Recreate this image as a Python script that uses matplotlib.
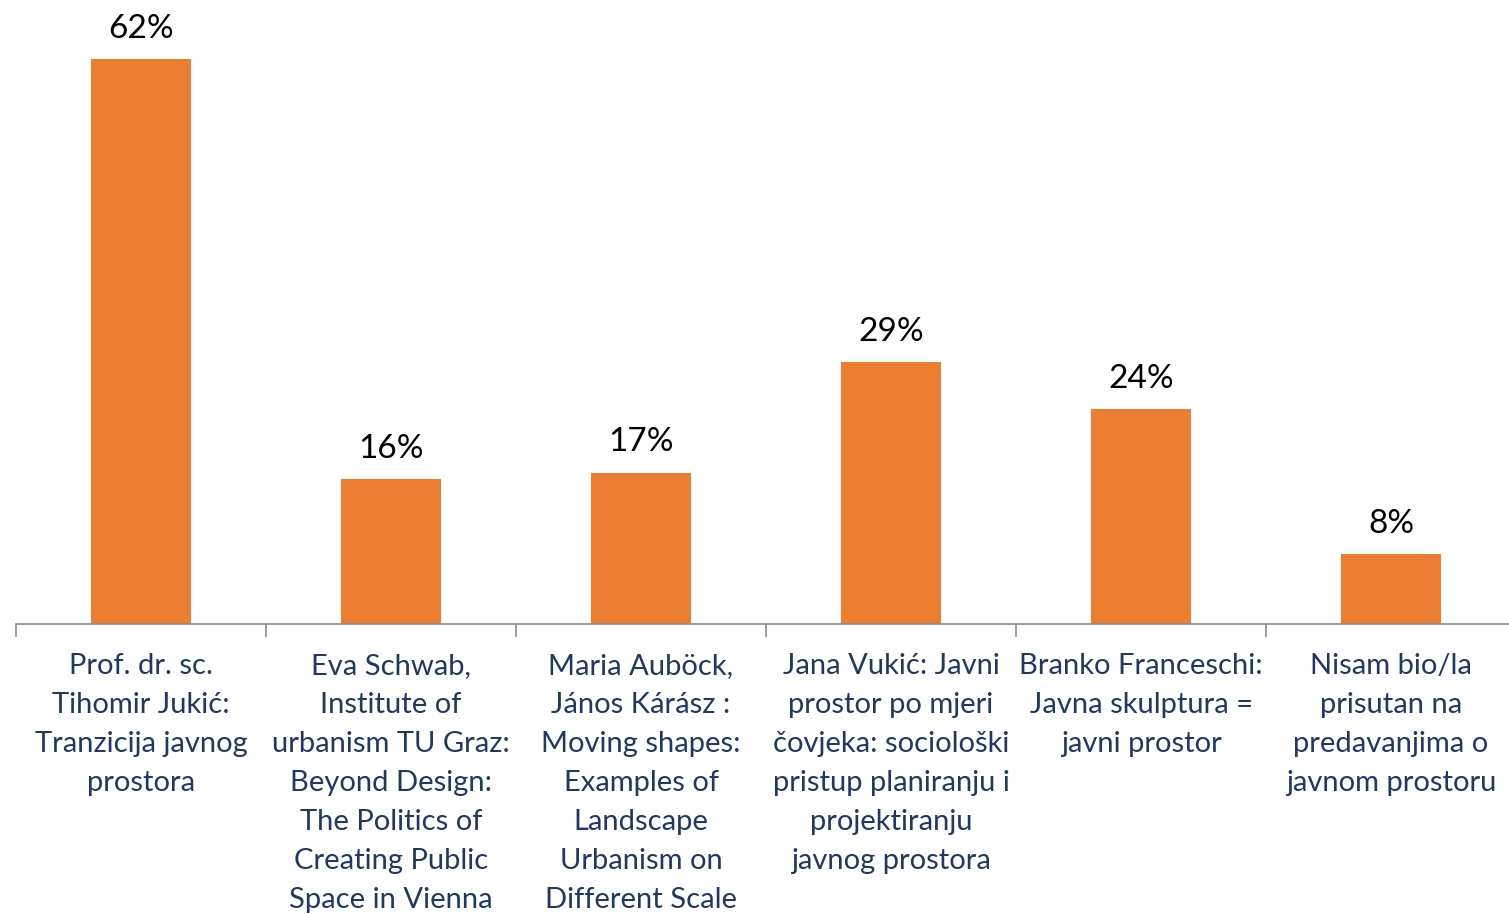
import numpy as np
import matplotlib.pyplot as plt

categories = [
    "Prof. dr. sc.\nTihomir Jukić:\nTranzicija javnog\nprostora",
    "Eva Schwab,\nInstitute of\nurbanism TU Graz:\nBeyond Design:\nThe Politics of\nCreating Public\nSpace in Vienna",
    "Maria Auböck,\nJános Kárász :\nMoving shapes:\nExamples of\nLandscape\nUrbanism on\nDifferent Scale",
    "Jana Vukić: Javni\nprostor po mjeri\nčovjeka: sociološki\npristup planiranju i\nprojektiranju\njavnog prostora",
    "Branko Franceschi:\nJavna skulptura =\njavni prostor",
    "Nisam bio/la\nprisutan na\npredavanjima o\njavnom prostoru",
]
# bar heights (labels are rounded)
values = [62.0, 15.9, 16.6, 28.7, 23.6, 7.7]
value_labels = ["62%", "16%", "17%", "29%", "24%", "8%"]

W, H = 1509, 914
fig = plt.figure(figsize=(W / 100, H / 100), dpi=100)
ax = fig.add_axes([16 / W, 290 / H, 1500 / W, 624 / H])

x = np.arange(len(values))
ax.bar(x, values, width=0.4, color="#ED7D31", zorder=2)

for xi, v, lab in zip(x, values, value_labels):
    ax.annotate(lab, (xi, v), xytext=(0, 11), textcoords="offset points",
                ha="center", va="bottom", fontsize=24, family="Lato", color="black")

ax.set_xlim(-0.5, 5.5)
ax.set_ylim(0, 624 / 9.113)

ax.set_xticks(x)
ax.set_xticklabels(categories, fontsize=21, family="Lato", color="#1F3864",
                   linespacing=1.62)
ax.tick_params(axis="x", which="major", length=0, pad=21)
ax.set_xticks(np.arange(-0.5, 6.0, 1.0), minor=True)
ax.tick_params(axis="x", which="minor", length=9, width=1.2, color="#8C8C8C")

ax.set_yticks([])
for s in ["top", "right", "left"]:
    ax.spines[s].set_visible(False)
ax.spines["bottom"].set_color("#8C8C8C")
ax.spines["bottom"].set_linewidth(1.2)

fig.savefig("out.png", dpi=100)
